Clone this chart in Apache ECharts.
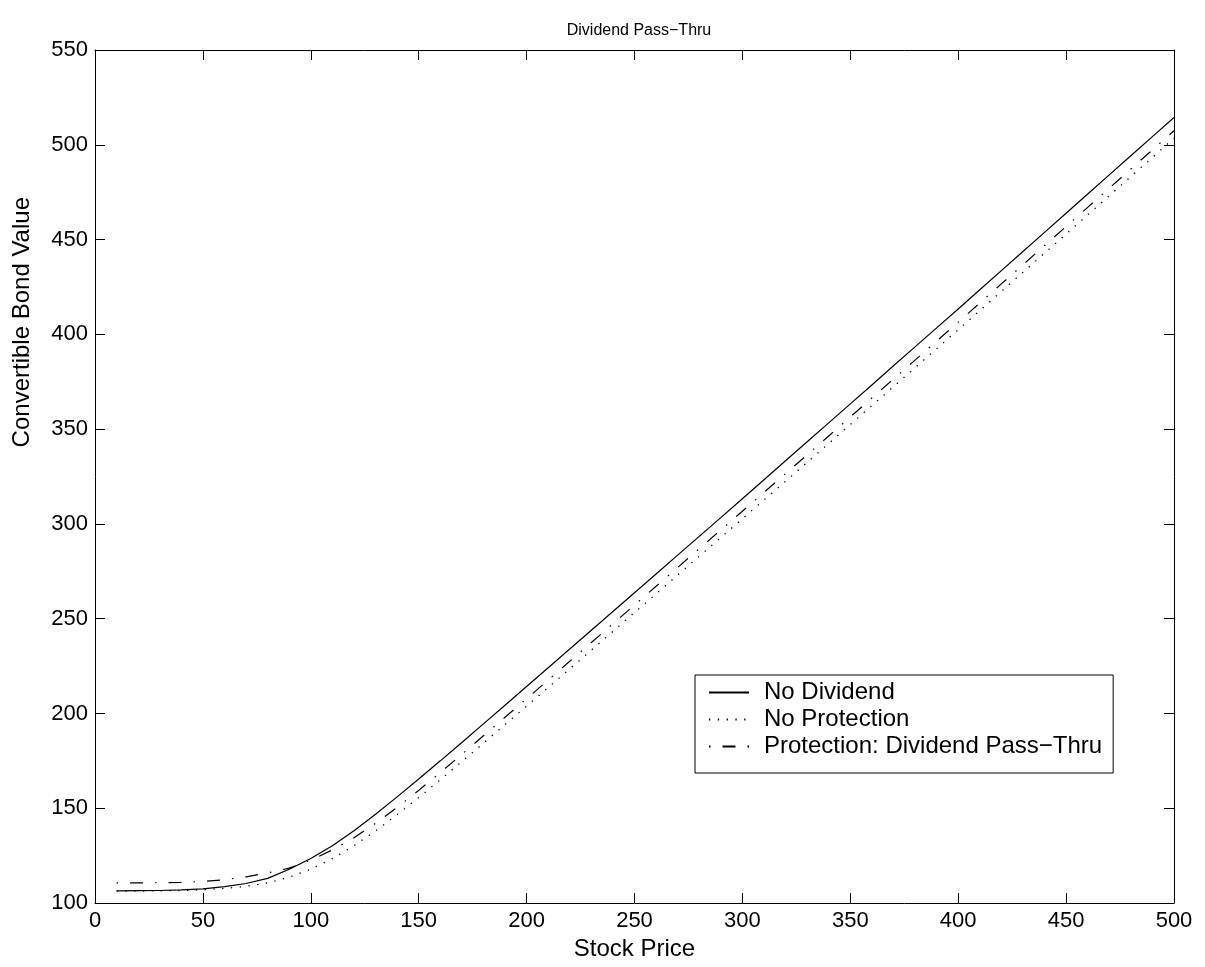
<!DOCTYPE html>
<html>
<head>
<meta charset="utf-8">
<script src="https://cdn.jsdelivr.net/npm/echarts@6/dist/echarts.min.js"></script>
<style>
  html, body { margin: 0; padding: 0; background: #fff; overflow: hidden; }
  #chart { width: 1205px; height: 967px; }
</style>
</head>
<body>
<div id="chart"></div>
<script>
// Stock price grid (x values)
const stockPrice = [10, 20, 30, 40, 50, 60, 70, 80, 90, 100,
  110, 120, 130, 140, 150, 160, 170, 180, 190, 200,
  210, 220, 230, 240, 250, 260, 270, 280, 290, 300,
  310, 320, 330, 340, 350, 360, 370, 380, 390, 400,
  410, 420, 430, 440, 450, 460, 470, 480, 490, 500];

// Convertible bond value, no dividend
const noDividend = [106.4, 106.5, 106.6, 106.9, 107.5, 108.6, 110.3, 113.0, 117.8, 123.5,
  130.2, 138.1, 146.8, 156.0, 165.4, 175.0, 184.7, 194.5, 204.3, 214.2,
  224.1, 234.0, 243.9, 253.8, 263.7, 273.6, 283.5, 293.4, 303.3, 313.3,
  323.3, 333.3, 343.3, 353.3, 363.3, 373.3, 383.4, 393.4, 403.4, 413.4,
  423.5, 433.6, 443.7, 453.8, 463.9, 474.0, 484.1, 494.2, 504.3, 514.4];

// Convertible bond value, dividend paid, no protection
const noProtection = [106.3, 106.3, 106.4, 106.6, 107.0, 107.7, 108.8, 110.6, 113.6, 117.8,
  123.4, 130.2, 138.0, 146.6, 155.6, 165.0, 174.6, 184.3, 194.1, 203.9,
  213.7, 223.5, 233.4, 243.3, 253.2, 263.1, 273.0, 282.9, 292.8, 302.7,
  312.6, 322.5, 332.4, 342.4, 352.4, 362.4, 372.4, 382.4, 392.4, 402.4,
  412.5, 422.6, 432.7, 442.8, 452.9, 463.0, 473.1, 483.2, 493.3, 503.5];

// Convertible bond value, dividend pass-thru protection
const passThru = [110.6, 110.6, 110.7, 110.9, 111.4, 112.3, 113.8, 115.9, 118.4, 122.6,
  128.0, 134.4, 142.0, 150.4, 159.4, 168.8, 178.4, 188.2, 198.0, 207.8,
  217.6, 227.5, 237.4, 247.3, 257.2, 267.1, 277.0, 286.9, 296.8, 306.7,
  316.6, 326.5, 336.4, 346.4, 356.4, 366.4, 376.4, 386.4, 396.4, 406.4,
  416.5, 426.6, 436.7, 446.8, 456.9, 467.0, 477.1, 487.2, 497.3, 507.4];

const seriesNames = ['No Dividend', 'No Protection', 'Protection: Dividend Pass\u2212Thru'];
const xTickStep = 50;
const yTickStep = 50;

const FONT = 'Liberation Sans, Arial, Helvetica, sans-serif';

function pairs(ys) {
  return stockPrice.map((x, i) => [x, ys[i]]);
}

function tickStyle() {
  return { show: true, inside: true, length: 10, lineStyle: { color: '#000', width: 1 } };
}
function lineStyleAxis() {
  return { show: true, onZero: false, lineStyle: { color: '#000', width: 1 } };
}

const chart = echarts.init(document.getElementById('chart'), null, { renderer: 'canvas' });

chart.setOption({
  backgroundColor: '#fff',
  animation: false,
  title: {
    text: 'Dividend Pass\u2212Thru',
    left: 634,
    top: 18,
    textAlign: 'center',
    textStyle: { fontFamily: FONT, fontSize: 16, fontWeight: 'normal', color: '#000' }
  },
  grid: { left: 95, right: 31, top: 50, bottom: 64, containLabel: false },
  legend: {
    orient: 'vertical',
    left: 695,
    top: 675,
    padding: [4, 11, 13, 13],
    itemGap: 0,
    itemWidth: 40,
    itemHeight: 14,
    backgroundColor: '#fff',
    borderColor: '#000',
    borderWidth: 1,
    borderRadius: 0,
    itemStyle: { color: 'rgba(0,0,0,0)', borderWidth: 0, opacity: 0 },
    textStyle: { fontFamily: FONT, fontSize: 24, color: '#000', lineHeight: 27, padding: [0, 0, 0, 10] },
    data: seriesNames
  },
  graphic: [{
    type: 'text',
    left: 10,
    top: 197,
    rotation: Math.PI / 2,
    style: { text: 'Convertible Bond Value', fontFamily: FONT, fontSize: 24, fill: '#000' }
  }],
  xAxis: [{
    type: 'value', min: 0, max: 500, interval: xTickStep,
    name: 'Stock Price', nameLocation: 'middle', nameGap: 33,
    nameTextStyle: { fontFamily: FONT, fontSize: 24, color: '#000' },
    axisLine: lineStyleAxis(), axisTick: tickStyle(),
    axisLabel: { fontFamily: FONT, fontSize: 22, color: '#000', margin: 7 },
    splitLine: { show: false }
  }, {
    type: 'value', min: 0, max: 500, interval: xTickStep, position: 'top',
    axisLine: lineStyleAxis(), axisTick: tickStyle(), axisLabel: { show: false }, splitLine: { show: false }
  }],
  yAxis: [{
    type: 'value', min: 100, max: 550, interval: yTickStep,
    axisLine: lineStyleAxis(), axisTick: tickStyle(),
    axisLabel: { fontFamily: FONT, fontSize: 22, color: '#000', margin: 7 },
    splitLine: { show: false }
  }, {
    type: 'value', min: 100, max: 550, interval: yTickStep, position: 'right',
    axisLine: lineStyleAxis(), axisTick: tickStyle(), axisLabel: { show: false }, splitLine: { show: false }
  }],
  series: [{
    name: seriesNames[0], type: 'line', data: pairs(noDividend),
    showSymbol: false, symbol: 'none',
    lineStyle: { color: '#000', width: 1.2, type: 'solid' },
    itemStyle: { color: '#000' }
  }, {
    name: seriesNames[1], type: 'line', data: pairs(noProtection),
    showSymbol: false, symbol: 'none',
    lineStyle: { color: '#000', width: 1.3, type: [1.3, 7.5] },
    itemStyle: { color: '#000' }
  }, {
    name: seriesNames[2], type: 'line', data: pairs(passThru),
    showSymbol: false, symbol: 'none',
    lineStyle: { color: '#000', width: 1.2, type: [13, 12, 1.5, 12], dashOffset: 25 },
    itemStyle: { color: '#000' }
  }]
});
</script>
</body>
</html>
